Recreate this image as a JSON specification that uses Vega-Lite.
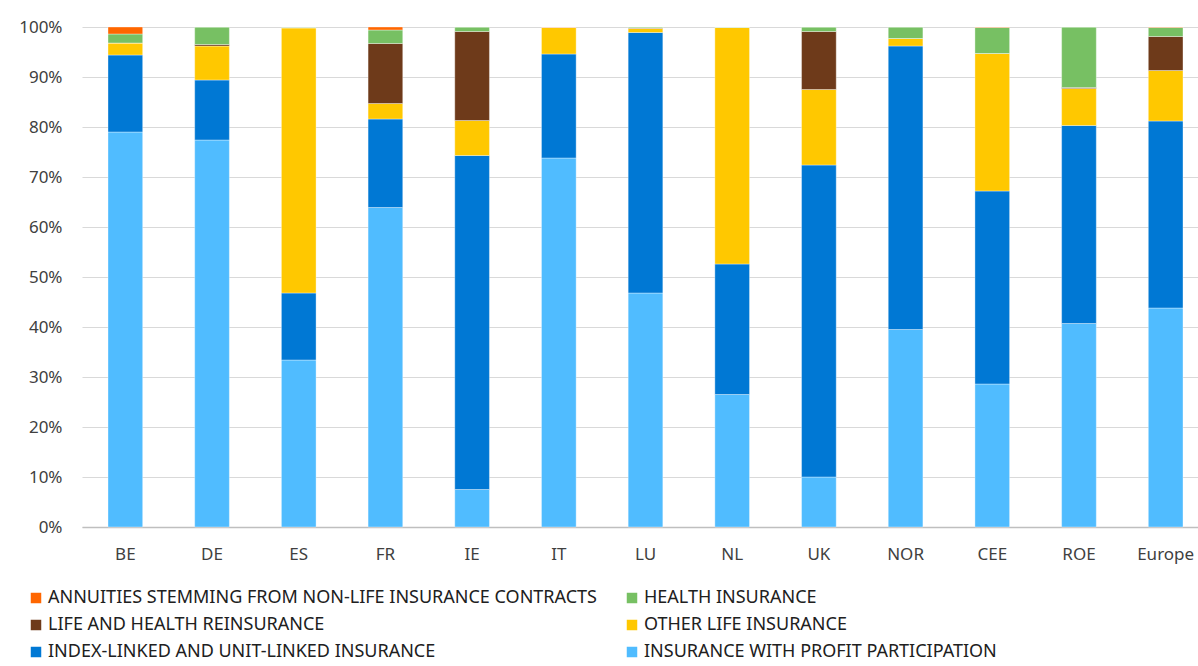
{
  "$schema": "https://vega.github.io/schema/vega-lite/v6.json",
  "width": 1127,
  "height": 500,
  "autosize": {"type": "none"},
  "padding": {"left": 82, "top": 27, "right": 0, "bottom": 139},
  "background": "white",
  "config": {
    "view": {"stroke": null},
    "font": "Noto Sans"
  },
  "data": {
    "values": [
      {"c": "BE", "INSURANCE WITH PROFIT PARTICIPATION": 79.0, "INDEX-LINKED AND UNIT-LINKED INSURANCE": 15.4, "OTHER LIFE INSURANCE": 2.4, "LIFE AND HEALTH REINSURANCE": 0.0, "HEALTH INSURANCE": 1.8, "ANNUITIES STEMMING FROM NON-LIFE INSURANCE CONTRACTS": 1.4},
      {"c": "DE", "INSURANCE WITH PROFIT PARTICIPATION": 77.4, "INDEX-LINKED AND UNIT-LINKED INSURANCE": 12.0, "OTHER LIFE INSURANCE": 6.8, "LIFE AND HEALTH REINSURANCE": 0.3, "HEALTH INSURANCE": 3.5, "ANNUITIES STEMMING FROM NON-LIFE INSURANCE CONTRACTS": 0.0},
      {"c": "ES", "INSURANCE WITH PROFIT PARTICIPATION": 33.4, "INDEX-LINKED AND UNIT-LINKED INSURANCE": 13.4, "OTHER LIFE INSURANCE": 53.0, "LIFE AND HEALTH REINSURANCE": 0.1, "HEALTH INSURANCE": 0.1, "ANNUITIES STEMMING FROM NON-LIFE INSURANCE CONTRACTS": 0.0},
      {"c": "FR", "INSURANCE WITH PROFIT PARTICIPATION": 63.9, "INDEX-LINKED AND UNIT-LINKED INSURANCE": 17.7, "OTHER LIFE INSURANCE": 3.1, "LIFE AND HEALTH REINSURANCE": 12.0, "HEALTH INSURANCE": 2.7, "ANNUITIES STEMMING FROM NON-LIFE INSURANCE CONTRACTS": 0.6},
      {"c": "IE", "INSURANCE WITH PROFIT PARTICIPATION": 7.5, "INDEX-LINKED AND UNIT-LINKED INSURANCE": 66.8, "OTHER LIFE INSURANCE": 7.0, "LIFE AND HEALTH REINSURANCE": 17.8, "HEALTH INSURANCE": 0.9, "ANNUITIES STEMMING FROM NON-LIFE INSURANCE CONTRACTS": 0.0},
      {"c": "IT", "INSURANCE WITH PROFIT PARTICIPATION": 73.8, "INDEX-LINKED AND UNIT-LINKED INSURANCE": 20.8, "OTHER LIFE INSURANCE": 5.3, "LIFE AND HEALTH REINSURANCE": 0.05, "HEALTH INSURANCE": 0.0, "ANNUITIES STEMMING FROM NON-LIFE INSURANCE CONTRACTS": 0.05},
      {"c": "LU", "INSURANCE WITH PROFIT PARTICIPATION": 46.8, "INDEX-LINKED AND UNIT-LINKED INSURANCE": 52.1, "OTHER LIFE INSURANCE": 0.8, "LIFE AND HEALTH REINSURANCE": 0.1, "HEALTH INSURANCE": 0.2, "ANNUITIES STEMMING FROM NON-LIFE INSURANCE CONTRACTS": 0.0},
      {"c": "NL", "INSURANCE WITH PROFIT PARTICIPATION": 26.5, "INDEX-LINKED AND UNIT-LINKED INSURANCE": 26.1, "OTHER LIFE INSURANCE": 47.3, "LIFE AND HEALTH REINSURANCE": 0.0, "HEALTH INSURANCE": 0.1, "ANNUITIES STEMMING FROM NON-LIFE INSURANCE CONTRACTS": 0.0},
      {"c": "UK", "INSURANCE WITH PROFIT PARTICIPATION": 10.0, "INDEX-LINKED AND UNIT-LINKED INSURANCE": 62.4, "OTHER LIFE INSURANCE": 15.1, "LIFE AND HEALTH REINSURANCE": 11.6, "HEALTH INSURANCE": 0.9, "ANNUITIES STEMMING FROM NON-LIFE INSURANCE CONTRACTS": 0.0},
      {"c": "NOR", "INSURANCE WITH PROFIT PARTICIPATION": 39.5, "INDEX-LINKED AND UNIT-LINKED INSURANCE": 56.7, "OTHER LIFE INSURANCE": 1.5, "LIFE AND HEALTH REINSURANCE": 0.0, "HEALTH INSURANCE": 2.3, "ANNUITIES STEMMING FROM NON-LIFE INSURANCE CONTRACTS": 0.0},
      {"c": "CEE", "INSURANCE WITH PROFIT PARTICIPATION": 28.6, "INDEX-LINKED AND UNIT-LINKED INSURANCE": 38.6, "OTHER LIFE INSURANCE": 27.5, "LIFE AND HEALTH REINSURANCE": 0.0, "HEALTH INSURANCE": 5.2, "ANNUITIES STEMMING FROM NON-LIFE INSURANCE CONTRACTS": 0.1},
      {"c": "ROE", "INSURANCE WITH PROFIT PARTICIPATION": 40.7, "INDEX-LINKED AND UNIT-LINKED INSURANCE": 39.6, "OTHER LIFE INSURANCE": 7.4, "LIFE AND HEALTH REINSURANCE": 0.2, "HEALTH INSURANCE": 12.1, "ANNUITIES STEMMING FROM NON-LIFE INSURANCE CONTRACTS": 0.0},
      {"c": "Europe", "INSURANCE WITH PROFIT PARTICIPATION": 43.8, "INDEX-LINKED AND UNIT-LINKED INSURANCE": 37.4, "OTHER LIFE INSURANCE": 10.1, "LIFE AND HEALTH REINSURANCE": 6.8, "HEALTH INSURANCE": 1.8, "ANNUITIES STEMMING FROM NON-LIFE INSURANCE CONTRACTS": 0.1}
    ]
  },
  "transform": [
    {"fold": ["INSURANCE WITH PROFIT PARTICIPATION", "INDEX-LINKED AND UNIT-LINKED INSURANCE", "OTHER LIFE INSURANCE", "LIFE AND HEALTH REINSURANCE", "HEALTH INSURANCE", "ANNUITIES STEMMING FROM NON-LIFE INSURANCE CONTRACTS"], "as": ["series", "value"]},
    {"calculate": "indexof(['INSURANCE WITH PROFIT PARTICIPATION', 'INDEX-LINKED AND UNIT-LINKED INSURANCE', 'OTHER LIFE INSURANCE', 'LIFE AND HEALTH REINSURANCE', 'HEALTH INSURANCE', 'ANNUITIES STEMMING FROM NON-LIFE INSURANCE CONTRACTS'], datum.series)", "as": "k"}
  ],
  "mark": {"type": "bar", "stroke": "white", "strokeWidth": 0.6, "strokeOpacity": 0.6},
  "encoding": {
    "x": {
      "field": "c", "type": "nominal", "sort": null, "title": null,
      "scale": {"paddingInner": 0.6, "paddingOuter": 0.3},
      "axis": {"labelAngle": 0, "labelFontSize": 17, "labelColor": "#404040", "labelPadding": 19, "ticks": false, "domainColor": "#bfbfbf", "domainWidth": 1.3, "grid": false}
    },
    "y": {
      "field": "value", "type": "quantitative", "stack": "normalize", "title": null,
      "scale": {"domain": [0, 1], "nice": false},
      "axis": {"values": [0, 0.1, 0.2, 0.3, 0.4, 0.5, 0.6, 0.7, 0.8, 0.9, 1], "format": ".0%", "labelFontSize": 17, "labelColor": "#404040", "labelPadding": 20, "ticks": false, "domain": false, "gridColor": "#d9d9d9", "gridWidth": 1.2}
    },
    "order": {"field": "k", "type": "quantitative"},
    "color": {
      "field": "series", "type": "nominal", "title": null,
      "scale": {
        "domain": ["ANNUITIES STEMMING FROM NON-LIFE INSURANCE CONTRACTS", "HEALTH INSURANCE", "LIFE AND HEALTH REINSURANCE", "OTHER LIFE INSURANCE", "INDEX-LINKED AND UNIT-LINKED INSURANCE", "INSURANCE WITH PROFIT PARTICIPATION"],
        "range": ["#FF6600", "#77C063", "#6E3A1A", "#FFC800", "#0078D4", "#50BCFF"]
      },
      "legend": {
        "orient": "none", "legendX": -55, "legendY": 562, "columns": 2,
        "direction": "horizontal",
        "symbolType": "square", "symbolSize": 110, "symbolStrokeWidth": 0,
        "labelFontSize": 18, "labelColor": "#202020", "labelLimit": 700,
        "labelOffset": 3, "rowPadding": 9, "columnPadding": 26
      }
    }
  }
}
